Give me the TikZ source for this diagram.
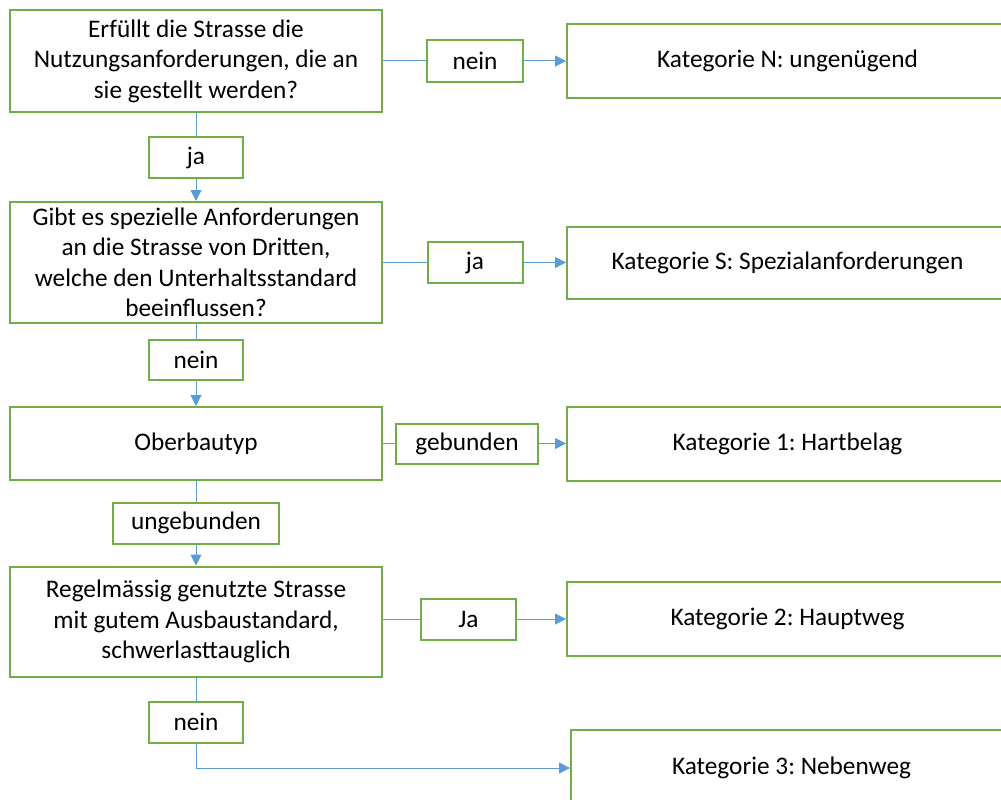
\documentclass[tikz,border=0pt]{standalone}
\usepackage{fontspec}
\setmainfont{Carlito}
\usetikzlibrary{arrows.meta}
\definecolor{boxgreen}{RGB}{112,173,71}
\definecolor{linkblue}{RGB}{91,155,213}

\begin{document}
\begin{tikzpicture}[x = 1pt, y = -1pt,
	box/.style = {draw = boxgreen, line width = 2pt, inner sep = 0pt, align = center, font = \fontsize{25.3}{30.5}\selectfont\frenchspacing},
	question/.style = {box, minimum width = 372pt},
	answer/.style = {box, minimum height = 41pt},
	result/.style = {box, minimum width = 441pt},
	link/.style = {draw = linkblue, line width = 1pt},
	tolink/.style = {link, -{Triangle[length = 11pt, width = 11pt]}}]
						\useasboundingbox (0, 0) rectangle (1001, 800);
						\clip (0, 0) rectangle (1001, 800);
						\node[question, minimum height = 101pt] (q1) at (196, 61) {Erfüllt die Strasse die\\Nutzungsanforderungen, die an\\sie gestellt werden?};
						\node[answer, minimum width = 96pt] (no1) at (475, 61) {nein};
						\node[result, minimum height = 73pt] (katn) at (787.5, 61) {Kategorie N: ungenügend};
						\node[answer, minimum width = 94pt] (yes1) at (196, 157.5) {ja};
						\node[question, minimum height = 121pt] (q2) at (196, 262.5) {Gibt es spezielle Anforderungen\\an die Strasse von Dritten,\\welche den Unterhaltsstandard\\beeinflussen?};
						\node[answer, minimum width = 95pt] (yes2) at (475, 262.5) {ja};
						\node[result, minimum height = 72pt] (kats) at (787.5, 262.5) {Kategorie S: Spezialanforderungen};
						\node[answer, minimum width = 94pt, minimum height = 40pt] (no2) at (196, 360) {nein};
						\node[question, minimum height = 73pt] (ober) at (196, 443.5) {Oberbautyp};
						\node[answer, minimum width = 142pt, minimum height = 40pt] (bound) at (467, 443.5) {gebunden};
						\node[result, minimum height = 74pt] (kat1) at (787.5, 443.5) {Kategorie 1: Hartbelag};
						\node[answer, minimum width = 166pt] (unbound) at (196, 523) {ungebunden};
						\node[question, minimum height = 110pt] (q4) at (196, 621.5) {Regelmässig genutzte Strasse\\mit gutem Ausbaustandard,\\schwerlasttauglich};
						\node[answer, minimum width = 95pt] (yes4) at (468.5, 619) {Ja};
						\node[result, minimum height = 74pt] (kat2) at (787.5, 619) {Kategorie 2: Hauptweg};
						\node[answer, minimum width = 94pt] (no4) at (196, 722) {nein};
						\node[result, minimum height = 76pt] (kat3) at (791.5, 768) {Kategorie 3: Nebenweg};
						\draw[link] (q1) -- (no1);
						\draw[tolink] (no1) -- (katn);
						\draw[link] (q1) -- (yes1);
						\draw[tolink] (yes1) -- (q2);
						\draw[link] (q2) -- (yes2);
						\draw[tolink] (yes2) -- (kats);
						\draw[link] (q2) -- (no2);
						\draw[tolink] (no2) -- (ober);
						\draw[link] (ober) -- (bound);
						\draw[tolink] (bound) -- (kat1);
						\draw[link] (ober) -- (unbound);
						\draw[tolink] (unbound) -- (q4);
						\draw[link] (yes4.west -| q4.east) -- (yes4.west);
						\draw[tolink] (yes4) -- (kat2);
						\draw[link] (q4) -- (no4);
						\draw[tolink] (no4) |- (kat3);
					\end{tikzpicture}
\end{document}
